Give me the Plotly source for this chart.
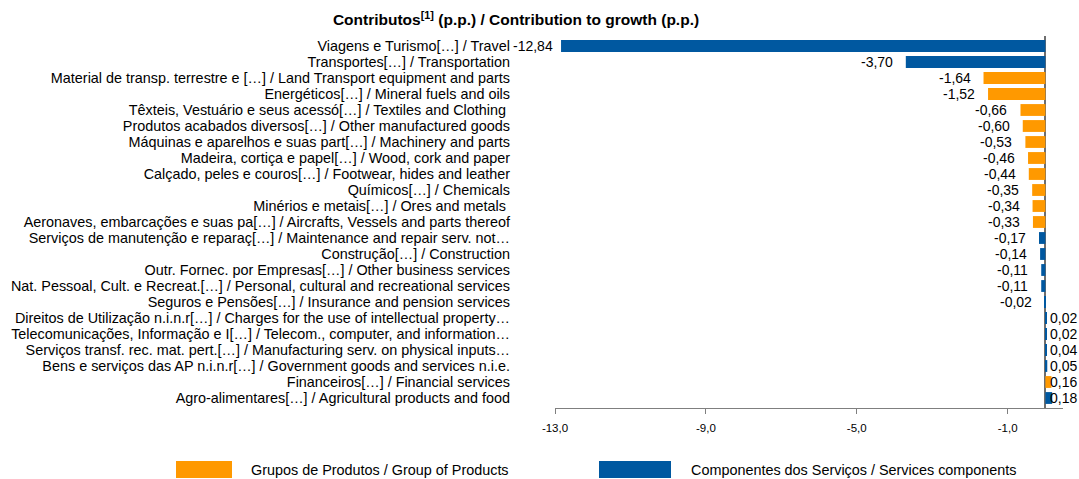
import plotly.graph_objects as go

categories = [
    "Viagens e Turismo[…] / Travel",
    "Transportes[…] / Transportation",
    "Material de transp. terrestre e […] / Land Transport equipment and parts",
    "Energéticos[…] / Mineral fuels and oils",
    "Têxteis, Vestuário e seus acessó[…] / Textiles and Clothing ",
    "Produtos acabados diversos[…] / Other manufactured goods",
    "Máquinas e aparelhos e suas part[…] / Machinery and parts",
    "Madeira, cortiça e papel[…] / Wood, cork and paper",
    "Calçado, peles e couros[…] / Footwear, hides and leather",
    "Químicos[…] / Chemicals",
    "Minérios e metais[…] / Ores and metals ",
    "Aeronaves, embarcações e suas pa[…] / Aircrafts, Vessels and parts thereof",
    "Serviços de manutenção e reparaç[…] / Maintenance and repair serv. not…",
    "Construção[…] / Construction",
    "Outr. Fornec. por Empresas[…] / Other business services",
    "Nat. Pessoal, Cult. e Recreat.[…] / Personal, cultural and recreational services",
    "Seguros e Pensões[…] / Insurance and pension services",
    "Direitos de Utilização n.i.n.r[…] / Charges for the use of intellectual property…",
    "Telecomunicações, Informação e I[…] / Telecom., computer, and information…",
    "Serviços transf. rec. mat. pert.[…] / Manufacturing serv. on physical inputs…",
    "Bens e serviços das AP n.i.n.r[…] / Government goods and services n.i.e.",
    "Financeiros[…] / Financial services",
    "Agro-alimentares[…] / Agricultural products and food",
]
values = [-12.84, -3.70, -1.64, -1.52, -0.66, -0.60, -0.53, -0.46, -0.44, -0.35,
          -0.34, -0.33, -0.17, -0.14, -0.11, -0.11, -0.02, 0.02, 0.02, 0.04,
          0.05, 0.16, 0.18]
# colour group as drawn in the chart: "P" = products (orange), "S" = services (blue)
groups = ["S", "S", "P", "P", "P", "P", "P", "P", "P", "P", "P", "P",
          "S", "S", "S", "S", "S", "S", "S", "S", "S", "P", "S"]
series_names = ["Grupos de Produtos / Group of Products",
                "Componentes dos Serviços / Services components"]
series_colors = ["#FF9900", "#0058A0"]
x_ticks = [-13.0, -9.0, -5.0, -1.0]

FONT = "Liberation Sans, Arial, sans-serif"

def fmt(v):
    return f"{v:.2f}".replace(".", ",")

fig = go.Figure()
for key, name, color in zip(["P", "S"], series_names, series_colors):
    xs = [v if g == key else None for v, g in zip(values, groups)]
    fig.add_trace(go.Bar(
        y=categories, x=xs, orientation="h", name=name,
        marker=dict(color=color, line=dict(width=0)),
        showlegend=False, cliponaxis=False,
    ))

# value labels
for cat, v in zip(categories, values):
    if v < 0:
        fig.add_annotation(x=v, y=cat, text=fmt(v), showarrow=False,
                           xanchor="right", yanchor="middle",
                           xshift=-11 if v > -12 else -6,
                           font=dict(family=FONT, size=14, color="#000000"))
    else:
        fig.add_annotation(x=0, y=cat, text=fmt(v), showarrow=False,
                           xanchor="left", yanchor="middle", xshift=3,
                           font=dict(family=FONT, size=14, color="#000000"))

W, H = 1079, 479
PL, PR, PT, PB = 555, 1063, 36, 408

fig.update_layout(
    width=W, height=H,
    margin=dict(l=PL, r=W - PR, t=PT, b=H - PB),
    paper_bgcolor="white", plot_bgcolor="white",
    barmode="overlay", bargap=0.26,
    font=dict(family=FONT, size=12, color="#000000"),
    title=dict(
        text="<b>Contributos<sup>[1]</sup> (p.p.) / Contribution to growth (p.p.)</b>",
        x=516 / W, xanchor="center", y=1 - 20 / H, yref="container", yanchor="middle",
        font=dict(family=FONT, size=15.5, color="#000000"),
    ),
    xaxis=dict(
        range=[-13.0, 0.467], tickvals=x_ticks,
        ticktext=[f"{t:.1f}".replace(".", ",") for t in x_ticks],
        showgrid=False, showline=True, linecolor="#7f7f7f", linewidth=1,
        ticks="outside", ticklen=5, tickcolor="#7f7f7f",
        ticklabelstandoff=4, automargin=False,
        zeroline=True, zerolinecolor="#6e6e6e", zerolinewidth=2,
        tickfont=dict(family=FONT, size=11.5, color="#000000"),
    ),
    yaxis=dict(
        autorange="reversed", showgrid=False, showline=False, ticks="",
        tickmode="array", tickvals=categories, ticktext=categories,
        ticklabelstandoff=44, automargin=False,
        tickfont=dict(family=FONT, size=14.4, color="#000000"),
    ),
)

# legend drawn as swatches + labels (figure pixel positions -> paper coords)
def px_x(x):
    return (x - PL) / (PR - PL)

def px_y(y):
    return (PB - y) / (PB - PT)

legend_items = [(176, 232, 249), (599, 671, 689)]
for (x0, x1, tx), name, color in zip(legend_items, series_names, series_colors):
    fig.add_shape(type="rect", xref="paper", yref="paper",
                  x0=px_x(x0), x1=px_x(x1), y0=px_y(461), y1=px_y(478),
                  fillcolor=color, line=dict(width=0))
    fig.add_annotation(text=name, xref="paper", yref="paper",
                       x=px_x(tx), y=px_y(470),
                       xanchor="left", yanchor="middle", showarrow=False,
                       font=dict(family=FONT, size=14.4, color="#000000"))

fig.write_html(
    "out.html",
    config={"displayModeBar": False},
    post_script="document.body.style.margin='0';document.body.style.overflow='hidden';",
)
